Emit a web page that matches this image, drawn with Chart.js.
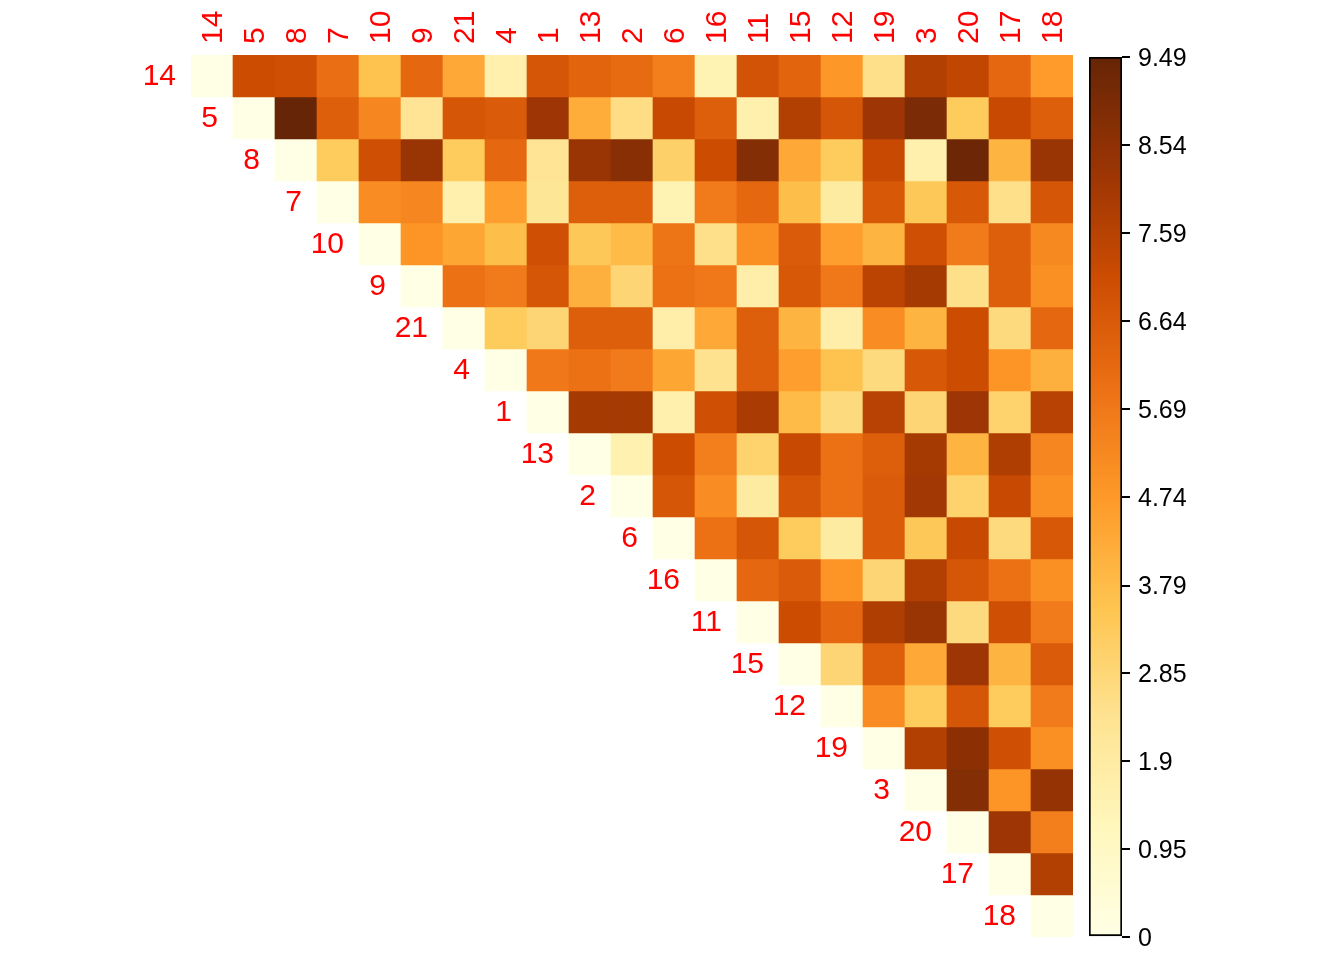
<!DOCTYPE html>
<html>
<head>
<meta charset="utf-8">
<script src="https://cdn.jsdelivr.net/npm/chart.js@4.4.0/dist/chart.umd.min.js"></script>
<style>
  html, body { margin: 0; padding: 0; background: #fff; }
  #wrap { position: relative; width: 1344px; height: 960px; }
  #heat { position: absolute; left: 0; top: 0; }
  #bar { position: absolute; left: 1080px; top: 0; }
</style>
</head>
<body>
<div id="wrap">
  <canvas id="heat" width="1344" height="960"></canvas>
  <canvas id="bar" width="264" height="960"></canvas>
</div>
<script>
const names = ["14", "5", "8", "7", "10", "9", "21", "4", "1", "13", "2", "6", "16", "11", "15", "12", "19", "3", "20", "17", "18"];

// upper triangle, each row starts right after the diagonal (diagonal = 0)
const dist = [
  [7.1, 7.0, 6.0, 3.6, 6.2, 4.3, 1.6, 6.8, 6.3, 6.1, 5.5, 1.4, 6.9, 6.3, 4.8, 2.5, 7.7, 7.4, 6.2, 4.7],
  [9.49, 6.5, 5.3, 2.3, 6.8, 6.6, 8.2, 4.2, 2.6, 7.2, 6.5, 1.6, 7.7, 6.8, 8.2, 9.0, 3.3, 7.2, 6.5],
  [3.3, 7.0, 8.3, 3.3, 6.2, 2.3, 8.3, 8.7, 3.1, 7.1, 8.8, 4.3, 3.3, 7.2, 1.6, 9.3, 4.0, 8.3],
  [5.1, 5.3, 1.6, 4.6, 2.2, 6.5, 6.5, 1.4, 5.6, 6.2, 3.7, 1.9, 6.7, 3.4, 6.7, 2.5, 6.8],
  [4.9, 4.4, 3.7, 7.0, 3.4, 3.8, 5.8, 2.5, 5.0, 6.6, 4.6, 4.0, 7.0, 5.6, 6.5, 5.2],
  [5.9, 5.6, 6.8, 4.1, 2.9, 5.9, 5.7, 1.7, 6.7, 5.7, 7.5, 8.0, 2.5, 6.5, 5.0],
  [3.3, 2.9, 6.5, 6.5, 1.7, 4.3, 6.5, 4.0, 1.7, 5.1, 4.0, 7.1, 2.7, 6.2],
  [5.7, 5.9, 5.6, 4.4, 2.4, 6.5, 4.6, 3.6, 2.7, 6.7, 7.1, 4.9, 4.1],
  [8.0, 8.0, 1.6, 7.0, 7.9, 3.8, 2.7, 7.6, 2.9, 8.2, 3.0, 7.6],
  [1.5, 7.1, 5.5, 3.0, 7.2, 5.9, 6.5, 8.0, 4.0, 7.8, 5.3],
  [6.8, 5.1, 1.9, 6.8, 5.9, 6.6, 8.1, 3.0, 7.2, 5.0],
  [5.9, 6.8, 3.3, 1.9, 6.6, 3.4, 7.2, 2.7, 6.7],
  [6.2, 6.6, 4.9, 2.9, 7.7, 6.8, 5.9, 5.0],
  [7.1, 6.2, 7.8, 8.3, 2.7, 7.0, 5.6],
  [2.9, 6.5, 4.3, 8.2, 4.0, 6.6],
  [5.1, 3.3, 6.8, 3.3, 5.6],
  [7.7, 8.6, 7.0, 5.0],
  [8.8, 4.9, 8.4],
  [8.2, 5.5],
  [7.7],
  []
];

const maxVal = 9.49;
const cbTicks = [0, 0.95, 1.9, 2.85, 3.79, 4.74, 5.69, 6.64, 7.59, 8.54, 9.49];
const cbLabels = ["0", "0.95", "1.9", "2.85", "3.79", "4.74", "5.69", "6.64", "7.59", "8.54", "9.49"];

const palette = ["#FFFFE5", "#FFF7BC", "#FEE391", "#FEC44F", "#FE9929", "#EC7014", "#CC4C02", "#993404", "#662506"];
const fontFam = "'Liberation Sans', Arial, sans-serif";

function hexRgb(h) {
    return [1, 3, 5].map((k) => parseInt(h.substr(k, 2), 16));
}
function colorFor(v) {
    let t = Math.max(0, Math.min(1, v / maxVal)) * (palette.length - 1);
    let i = Math.min(Math.floor(t), palette.length - 2);
    let f = t - i;
    let a = hexRgb(palette[i]), b = hexRgb(palette[i + 1]);
    let c = a.map((x, k) => Math.round(x + (b[k] - x) * f));
    return `rgb(${c[0]},${c[1]},${c[2]})`;
}

// value for row i, column j (upper triangle only)
function cell(i, j) {
    if (j === i) return 0;
    return dist[i][j - i - 1];
}

const datasets = names.map((n, i) => ({
    label: n,
    data: names.map((_, j) => (j >= i ? [i, i + 1] : null)),
    backgroundColor: names.map((_, j) => (j >= i ? colorFor(cell(i, j)) : "transparent")),
    borderWidth: 0,
    grouped: false,
    barPercentage: 1,
    categoryPercentage: 1,
}));

// row names next to the diagonal, column names along the top
const nameLabels = {
    id: "nameLabels",
    afterDatasetsDraw(chart) {
        const { ctx, chartArea, scales: { x, y } } = chart;
        const half = (x.getPixelForValue(1) - x.getPixelForValue(0)) / 2;
        ctx.save();
        ctx.fillStyle = "#FF0000";
        ctx.font = "30px " + fontFam;
        ctx.textBaseline = "middle";
        ctx.textAlign = "right";
        names.forEach((n, i) => {
            ctx.fillText(n, x.getPixelForValue(i) - half - 15, y.getPixelForValue(i + 0.5) + 1);
        });
        ctx.textAlign = "left";
        names.forEach((n, j) => {
            ctx.save();
            ctx.translate(x.getPixelForValue(j) + 2, chartArea.top - 11);
            ctx.rotate(-Math.PI / 2);
            ctx.fillText(n, 0, 0);
            ctx.restore();
        });
        ctx.restore();
    },
};

new Chart(document.getElementById("heat"), {
    type: "bar",
    data: { labels: names, datasets: datasets },
    options: {
        responsive: false,
        animation: false,
        layout: { padding: { left: 191, right: 271, top: 55, bottom: 23 } },
        plugins: { legend: { display: false }, tooltip: { enabled: false } },
        scales: {
            x: { display: false },
            y: { display: false, min: 0, max: names.length, reverse: true },
        },
    },
    plugins: [nameLabels],
});

// colour key
const key = new Chart(document.getElementById("bar"), {
    type: "bar",
    data: {
        labels: [""],
        datasets: [{
            data: [[0, maxVal]],
            backgroundColor: (ctx) => {
                const y = ctx.chart.scales.y;
                if (!y) return palette[4];
                const y0 = y.getPixelForValue(0), y1 = y.getPixelForValue(maxVal);
                if (!Number.isFinite(y0) || !Number.isFinite(y1)) return palette[4];
                const g = ctx.chart.ctx.createLinearGradient(0, y0, 0, y1);
                palette.forEach((c, k) => g.addColorStop(k / (palette.length - 1), c));
                return g;
            },
            borderColor: "#000",
            borderWidth: 2,
            borderSkipped: false,
            barPercentage: 1,
            categoryPercentage: 1,
        }],
    },
    options: {
        responsive: false,
        animation: false,
        layout: { padding: { left: 9, top: 57, bottom: 23, right: 0 } },
        plugins: { legend: { display: false }, tooltip: { enabled: false } },
        scales: {
            x: { display: false },
            y: {
                position: "right",
                min: 0,
                max: maxVal,
                afterBuildTicks: (s) => { s.ticks = cbTicks.map((v) => ({ value: v })); },
                grid: { drawOnChartArea: false, drawTicks: true, tickLength: 8, color: "#000", lineWidth: 2 },
                border: { display: false },
                ticks: {
                    color: "#000",
                    font: { family: fontFam, size: 25 },
                    padding: 8,
                    labelOffset: 2,
                    callback: (v, i) => cbLabels[i],
                },
                afterFit: (s) => { s.width = 222; },
            },
        },
    },
});
key.update();
</script>
</body>
</html>
